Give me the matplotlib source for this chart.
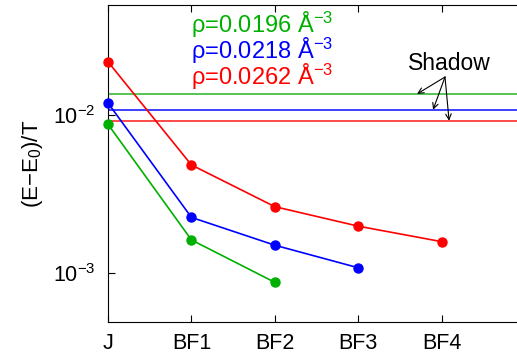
import matplotlib.pyplot as plt

plt.rcParams['font.family'] = ['Liberation Sans', 'DejaVu Sans']
plt.rcParams['mathtext.fontset'] = 'custom'
plt.rcParams['mathtext.rm'] = 'Liberation Sans'
plt.rcParams['mathtext.it'] = 'Liberation Sans'

categories = ['J', 'BF1', 'BF2', 'BF3', 'BF4']

labels = ['ρ=0.0196 Å$^{-3}$', 'ρ=0.0218 Å$^{-3}$', 'ρ=0.0262 Å$^{-3}$']
colors = ['#00b000', '#0000ff', '#ff0000']
shadow_colors = ['#55c455', '#3f3fff', '#ff4a4a']

# energy per particle above ground state for each density
green_vals = [0.00873, 0.00162, 0.000873]
blue_vals = [0.0119, 0.00225, 0.0015, 0.00108]
red_vals = [0.0217, 0.00483, 0.00263, 0.00198, 0.00158]
series = [green_vals, blue_vals, red_vals]

shadow_vals = [0.0136, 0.0108, 0.0092]

fig = plt.figure(figsize=(5.17, 3.56), dpi=100)
ax = fig.add_axes([0.209, 0.0955, 0.8066, 0.8905])

for vals, c in zip(series, colors):
    ax.plot(range(len(vals)), vals, '-', color=c, lw=1.2, marker='o',
            markersize=6.5, clip_on=False, zorder=3)

for s, c in zip(shadow_vals, shadow_colors):
    ax.axhline(s, color=c, lw=1.4, zorder=2)

ax.set_yscale('log')
ax.set_xlim(0, 5)
ax.set_ylim(4.9e-4, 0.0497)
ax.set_xticks(range(len(categories)))
ax.set_xticklabels(categories)
ax.set_yticks([1e-3, 1e-2])
ax.minorticks_off()
ax.tick_params(direction='in', labelsize=15.5, top=True, length=5, width=0.8)
ax.tick_params(axis='x', pad=8)
ax.tick_params(axis='y', pad=9)
ax.set_ylabel('(E$-$E$_0$)/T', fontsize=16, labelpad=6)

# density labels
label_y = [0.0330, 0.0226, 0.0155]
for lab, c, y in zip(labels, colors, label_y):
    ax.text(1.0, y, lab, color=c, fontsize=17, va='baseline', ha='left')

ax.text(3.6, 0.0193, 'Shadow', fontsize=16.5, va='baseline', ha='left')
arrow_x = [3.705, 3.897, 4.089]
for x, s in zip(arrow_x, shadow_vals):
    ax.annotate('', xy=(x, s), xytext=(4.04, 0.0174),
                arrowprops=dict(arrowstyle='->', color='black', lw=0.8,
                                shrinkA=0, shrinkB=0))

fig.savefig('out.png', dpi=100)
